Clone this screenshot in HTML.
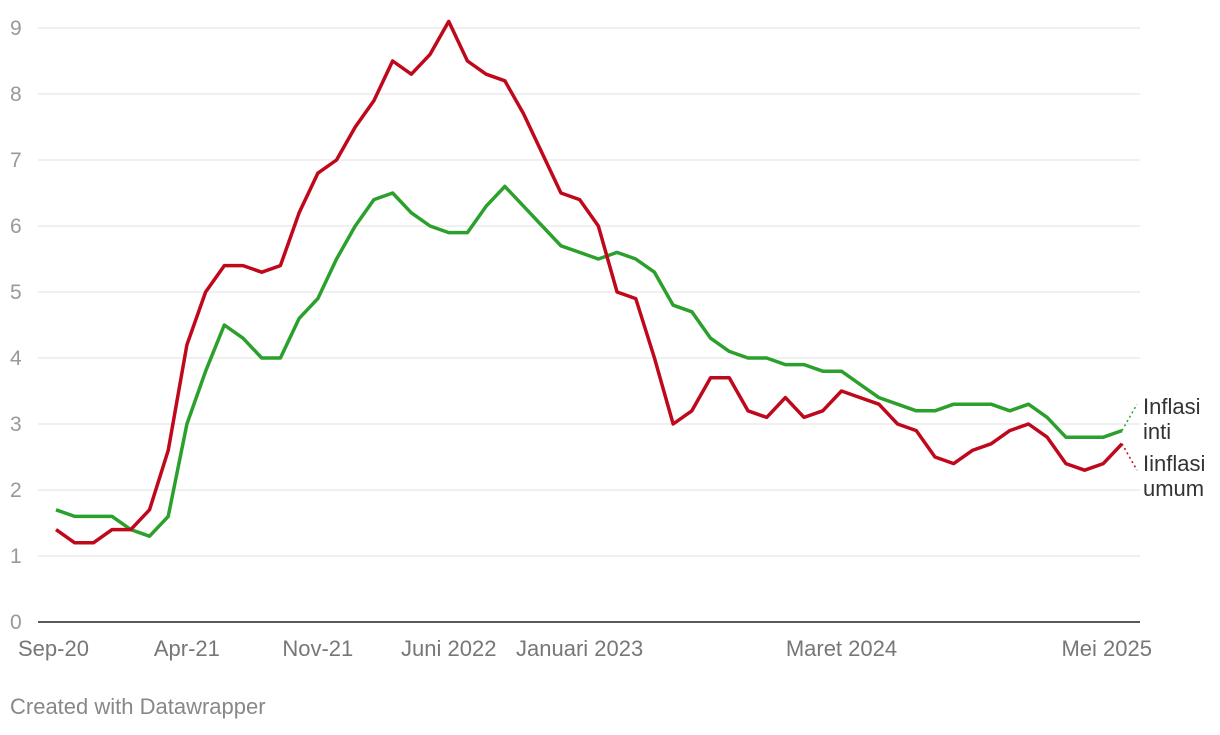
<!DOCTYPE html>
<html><head><meta charset="utf-8"><style>
body{margin:0;background:#fff;font-family:"Liberation Sans",Arial,sans-serif;}
svg text{font-family:"Liberation Sans",Arial,sans-serif;}
</style></head><body>
<svg id="chart" width="1220" height="730" viewBox="0 0 1220 730" xmlns="http://www.w3.org/2000/svg">
<g id="grid"></g><g id="xlabels"></g><g id="lines"></g>
<text x="1143" y="414" font-size="22" fill="#333">Inflasi</text>
<text x="1143" y="439" font-size="22" fill="#333">inti</text>
<text x="1143" y="471" font-size="22" fill="#333">Iinflasi</text>
<text x="1143" y="496" font-size="22" fill="#333">umum</text>
<text x="10" y="714" font-size="22" fill="#888">Created with Datawrapper</text>
</svg>
<script>
const headline=[1.4,1.2,1.2,1.4,1.4,1.7,2.6,4.2,5.0,5.4,5.4,5.3,5.4,6.2,6.8,7.0,7.5,7.9,8.5,8.3,8.6,9.1,8.5,8.3,8.2,7.7,7.1,6.5,6.4,6.0,5.0,4.9,4.0,3.0,3.2,3.7,3.7,3.2,3.1,3.4,3.1,3.2,3.5,3.4,3.3,3.0,2.9,2.5,2.4,2.6,2.7,2.9,3.0,2.8,2.4,2.3,2.4,2.7];
const core=[1.7,1.6,1.6,1.6,1.4,1.3,1.6,3.0,3.8,4.5,4.3,4.0,4.0,4.6,4.9,5.5,6.0,6.4,6.5,6.2,6.0,5.9,5.9,6.3,6.6,6.3,6.0,5.7,5.6,5.5,5.6,5.5,5.3,4.8,4.7,4.3,4.1,4.0,4.0,3.9,3.9,3.8,3.8,3.6,3.4,3.3,3.2,3.2,3.3,3.3,3.3,3.2,3.3,3.1,2.8,2.8,2.8,2.9];
const yTicks=[0,1,2,3,4,5,6,7,8,9];
const xTickIdx=[0,7,14,21,28,42,56];
const xTickLabels=["Sep-20","Apr-21","Nov-21","Juni 2022","Januari 2023","Maret 2024","Mei 2025"];
const NS="http://www.w3.org/2000/svg";
const x0=56,x1=1122,n=headline.length;
const X=i=>x0+(x1-x0)*i/(n-1);
const Y=v=>622-66*v;
function mk(t,a,p){const e=document.createElementNS(NS,t);for(const k in a)e.setAttribute(k,a[k]);p.appendChild(e);return e;}
const grid=document.getElementById('grid');
yTicks.forEach(v=>{
 const l=mk('line',{x1:38,x2:1140,y1:Y(v),y2:Y(v),stroke:v===0?'#222':'#e0e0e0','stroke-width':v===0?1.5:1},grid);
 
 
 const t=mk('text',{x:10,y:Y(v)+7,'font-size':21,fill:'#999'},grid);t.textContent=v;
 
 
});
const xl=document.getElementById('xlabels');
xTickIdx.forEach((idx,k)=>{
 let xx=X(idx),anchor='middle';
 if(k===xTickIdx.length-1){anchor='end';xx=1152;}
 if(k===0){anchor='start';xx=18;}
 const t=mk('text',{x:xx,y:656,'font-size':22,fill:'#777','text-anchor':anchor},xl);t.textContent=xTickLabels[k];
 
 
});
const lines=document.getElementById('lines');
function series(data,color,name,endY){
 const p=mk('polyline',{points:data.map((v,i)=>X(i)+','+Y(v)).join(' '),fill:'none',stroke:color,'stroke-width':3.5,'stroke-linejoin':'round'},lines);
 
 
 const d=mk('line',{x1:X(n-1),y1:Y(data[n-1]),x2:1137,y2:endY,stroke:color,'stroke-width':1.5,'stroke-dasharray':'2,3'},lines);
 
 
}
series(core,'#2ca02c','core-inflation-line',Y(3.3));
series(headline,'#c0081c','headline-inflation-line',Y(2.3));
</script>
</body></html>
